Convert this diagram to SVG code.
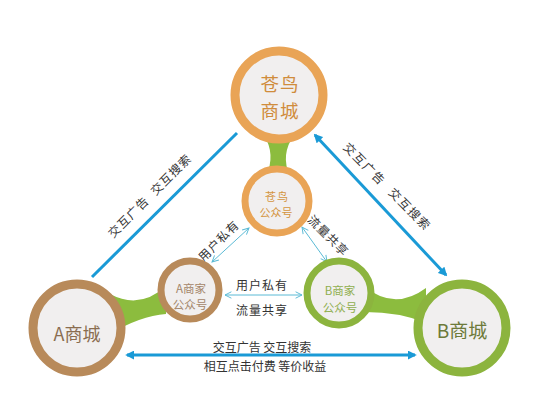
<svg xmlns="http://www.w3.org/2000/svg" width="550" height="413" viewBox="0 0 550 413">
<defs>
<style>
.t{font-family:"Noto Sans CJK SC","Noto Sans",sans-serif;text-anchor:middle}
.fill{fill:#f1efef}
.stem{fill:#8cbc3e}
.big{stroke:#1a9ad6;stroke-width:3;fill:none}
.thin{stroke:#5bbad5;stroke-width:1;fill:none}
.lbl{fill:#333;font-size:12px}
</style>
<marker id="ab" viewBox="0 0 10 10" refX="8" refY="5" markerWidth="3" markerHeight="3" orient="auto-start-reverse">
<path d="M0 0 L10 5 L0 10 Z" fill="#1a9ad6"/>
</marker>
<marker id="at" viewBox="0 0 10 10" refX="9" refY="5" markerWidth="8" markerHeight="8" orient="auto-start-reverse" markerUnits="userSpaceOnUse">
<path d="M1 1 L9 5 L1 9" fill="none" stroke="#5bbad5" stroke-width="1.2"/>
</marker>
</defs>
<rect width="550" height="413" fill="#ffffff"/>
<g id="stems">
<path class="stem" d="M264 135 Q276 155 266 176 L290 176 Q280 155 294 135 Z"/>
<path class="stem" d="M110 294 Q140 310 166 286 L166 314 Q140 316 110 334 Z"/>
<path class="stem" d="M365 287 Q395 311 426 288 L426 323 Q400 312 365 312 Z"/>
</g>
<g id="connectors">
<line class="big" x1="92" y1="277" x2="237" y2="133"/>
<line class="big" x1="315" y1="135" x2="446" y2="275" marker-start="url(#ab)" marker-end="url(#ab)"/>
<line class="big" x1="127" y1="355" x2="415" y2="355" marker-start="url(#ab)" marker-end="url(#ab)"/>
<line class="thin" x1="249" y1="228" x2="212" y2="262" marker-start="url(#at)" marker-end="url(#at)"/>
<line class="thin" x1="302" y1="227" x2="327" y2="262" marker-start="url(#at)" marker-end="url(#at)"/>
<line class="thin" x1="225" y1="295" x2="302" y2="295" marker-start="url(#at)" marker-end="url(#at)"/>
<text class="t lbl" transform="translate(150 196) rotate(-45)" y="4" letter-spacing="1">交互广告<tspan dx="8">交互搜索</tspan></text>
<text class="t lbl" transform="translate(387 187) rotate(45)" y="4" letter-spacing="1.5">交互广告<tspan dx="10">交互搜索</tspan></text>
<text class="t lbl" transform="translate(219 241) rotate(-45)" y="4" letter-spacing="1">用户私有</text>
<text class="t lbl" transform="translate(328 236) rotate(45)" y="4" letter-spacing="1">流量共享</text>
<text class="t lbl" x="262" y="290" letter-spacing="1">用户私有</text>
<text class="t lbl" x="262" y="315" letter-spacing="1">流量共享</text>
<text class="t lbl" x="262" y="352">交互广告 交互搜索</text>
<text class="t lbl" x="265" y="371">相互点击付费 等价收益</text>
</g>
<g id="cangniao-mall">
<circle class="fill" cx="279" cy="95" r="44" stroke="#e9a456" stroke-width="9"/>
<text class="t" font-size="18.5" fill="#d08c3c" letter-spacing="1"><tspan x="280" y="91">苍鸟</tspan><tspan x="280" y="118">商城</tspan></text>
</g>
<g id="cangniao-account">
<circle class="fill" cx="277" cy="201" r="32" stroke="#e9a456" stroke-width="7"/>
<text class="t" font-size="11" fill="#d4953f"><tspan x="277" y="201" letter-spacing="1">苍鸟</tspan><tspan x="276" y="217">公众号</tspan></text>
</g>
<g id="a-mall">
<circle class="fill" cx="77" cy="328" r="44" stroke="#b88a5a" stroke-width="9"/>
<text class="t" x="77" y="341" font-size="18" fill="#8a6d50">A商城</text>
</g>
<g id="b-mall">
<circle class="fill" cx="462" cy="328" r="44" stroke="#8cb43e" stroke-width="9"/>
<text class="t" x="462" y="338" font-size="19" fill="#6d7a3a">B商城</text>
</g>
<g id="a-account">
<circle class="fill" cx="190" cy="290" r="29" stroke="#b88a5a" stroke-width="7"/>
<text class="t" font-size="11.5" fill="#a4866a"><tspan x="191" y="293">A商家</tspan><tspan x="190" y="309">公众号</tspan></text>
</g>
<g id="b-account">
<circle class="fill" cx="339" cy="293" r="32" stroke="#8cb43e" stroke-width="7"/>
<text class="t" font-size="11.5" fill="#8fae4e"><tspan x="340" y="295">B商家</tspan><tspan x="340" y="312">公众号</tspan></text>
</g>
</svg>
